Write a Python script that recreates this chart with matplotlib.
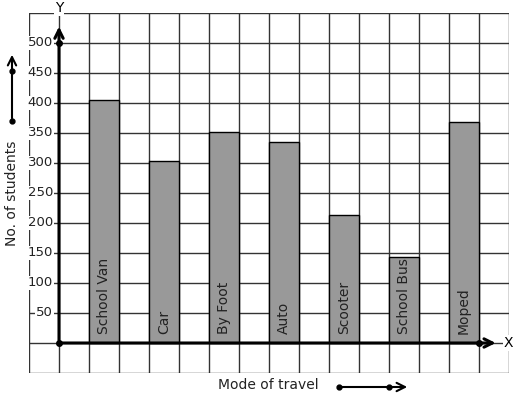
import matplotlib
matplotlib.use('Agg')
import matplotlib.pyplot as plt

# data
modes = ['School Van', 'Car', 'By Foot', 'Auto', 'Scooter', 'School Bus', 'Moped']
students = [405, 303, 352, 335, 214, 143, 368]
yticks = [50, 100, 150, 200, 250, 300, 350, 400, 450, 500]

W, H = 517, 399
fig = plt.figure(figsize=(W / 100, H / 100), dpi=100)
ax = fig.add_axes([29 / W, 26 / H, 480 / W, 360 / H])
ax.set_xlim(-1, 15)
ax.set_ylim(-50, 550)

# square grid
for gx in range(-1, 16):
    ax.axvline(gx, color='#333333', lw=1, zorder=1)
for gy in range(-50, 551, 50):
    ax.axhline(gy, color='#333333', lw=1, zorder=1)
ax.set_xticks([])
ax.set_yticks([])
for s in ax.spines.values():
    s.set_visible(False)

# bars
xs = [1.5 + 2 * i for i in range(len(modes))]
ax.bar(xs, students, width=1, color='#999999', edgecolor='black', lw=1, zorder=2)
for x, m in zip(xs, modes):
    ax.text(x, 15, m, rotation=90, ha='center', va='bottom', fontsize=10,
            color='#222222', zorder=3)

# y tick labels
for t in yticks:
    ax.text(-0.2, t, str(t), ha='right', va='center', fontsize=9.5, color='#222222',
            bbox=dict(facecolor='white', edgecolor='none', pad=0.5), zorder=3)

# axes with arrows
ax.annotate('', xy=(0, 532), xytext=(0, 0),
            arrowprops=dict(arrowstyle='->,head_length=0.6,head_width=0.3', lw=2.2, color='black'),
            zorder=4)
ax.annotate('', xy=(14.65, 0), xytext=(0, 0),
            arrowprops=dict(arrowstyle='->,head_length=0.6,head_width=0.3', lw=2.2, color='black'),
            zorder=4)
ax.plot([0, 0, 14], [0, 500, 0], 'o', color='black', ms=4, zorder=5, clip_on=False)
ax.text(0, 558, 'Y', ha='center', va='center', fontsize=10,
        bbox=dict(facecolor='white', edgecolor='none', pad=0.5), zorder=5, clip_on=False)
ax.text(14.98, 0, 'X', ha='center', va='center', fontsize=10,
        bbox=dict(facecolor='white', edgecolor='none', pad=0.5), zorder=5)

# axis titles with arrows outside the grid
fig.text(12 / W, 206 / H, 'No. of students', rotation=90, ha='center', va='center',
         fontsize=10, color='#222222')
fig.text(268 / W, 14 / H, 'Mode of travel', ha='center', va='center', fontsize=10,
         color='#222222')
arr = dict(arrowstyle='->,head_length=0.6,head_width=0.3', lw=1.5, color='black')
ax.annotate('', xy=(12, 347), xytext=(12, 278), xycoords='figure pixels',
            textcoords='figure pixels', arrowprops=arr, annotation_clip=False)
ax.annotate('', xy=(410, 12), xytext=(339, 12), xycoords='figure pixels',
            textcoords='figure pixels', arrowprops=arr, annotation_clip=False)
fig.add_artist(plt.Line2D([12, 12], [278, 328], marker='o', ls='none', ms=3.5,
                          color='black', transform=None))
fig.add_artist(plt.Line2D([339, 389], [12, 12], marker='o', ls='none', ms=3.5,
                          color='black', transform=None))

fig.savefig('out.png', dpi=100)
